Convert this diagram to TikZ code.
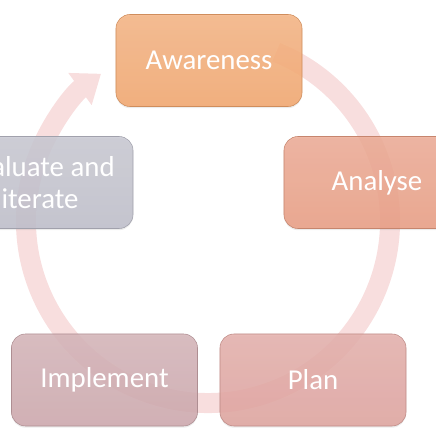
\documentclass[tikz,border=0pt]{standalone}
\usepackage{fontspec}
\setmainfont{Carlito}
\usetikzlibrary{arrows.meta,positioning,shadows,calc}
\definecolor{peach}{RGB}{243,166,108}
\definecolor{salmon}{RGB}{233,156,130}
\definecolor{rose}{RGB}{223,162,157}
\definecolor{mauve}{RGB}{205,167,172}
\definecolor{slate}{RGB}{190,190,202}
\definecolor{blush}{RGB}{243,200,200}
\tikzset{
  box/.style={draw=#1!85!black,top color=#1!85!white,bottom color=#1,
    fill opacity=0.85,text opacity=1,rounded corners=10pt,
    minimum width=4.65cm,minimum height=2.3cm,align=center,
    text=white,font=\fontsize{20.5}{23}\selectfont,
    drop shadow={opacity=0.15,shadow xshift=0pt,shadow yshift=-1.2pt}},
  box/.default=peach,
  ring/.style={draw=blush,line width=0.5cm,
    -{Triangle[length=0.65cm,width=0.95cm]}},
}
\begin{document}
\begin{tikzpicture}[x=0.025cm,y=0.025cm]
  \useasboundingbox (0,0) rectangle (436,436);
  \clip (0,0) rectangle (436,436);
  % the cycle behind the steps
  \coordinate (hub) at (208,215);
  \begin{scope}[transparency group,opacity=0.6]
    \draw[ring] ($(hub)+(68:182)$) arc[start angle=68,end angle=-234,radius=182];
  \end{scope}
  % the five steps
  \node[box=peach]  (aw) at (209,375.5) {Awareness};
  \node[box=salmon] (an) at (377,253.5) {Analyse};
  \node[box=rose]   (pl) at (313,56) {Plan};
  \node[box=mauve]  (im) at (104.5,56) {Implement};
  \node[box=slate]  (ev) at (40,253.5) {Evaluate and\\iterate};
\end{tikzpicture}
\end{document}
